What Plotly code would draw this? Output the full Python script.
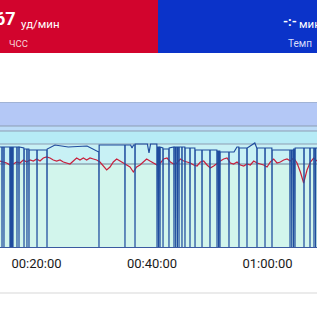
import plotly.graph_objects as go

# ---------------- data ----------------
tick_vals = [20, 40, 60]
tick_text = ["00:20:00", "00:40:00", "01:00:00"]

hr_time_min = [
    13.68, 14.26, 14.83, 15.41, 15.99, 16.57, 17.14, 17.72, 18.30, 18.87,
    19.45, 20.03, 20.61, 21.18, 21.76, 22.34, 22.91, 23.49, 24.07, 24.65,
    25.22, 25.80, 26.38, 26.95, 27.53, 28.11, 28.69, 29.26, 29.84, 30.42,
    30.99, 31.57, 32.15, 32.73, 33.30, 33.88, 34.46, 35.03, 35.61, 36.19,
    36.77, 37.34, 37.92, 38.50, 39.07, 39.65, 40.23,
    40.87, 41.45, 42.02, 42.60, 43.18, 43.76, 44.33, 44.91, 45.49, 46.06,
    46.64, 47.22, 47.80, 48.37, 48.95, 49.53, 50.10, 50.68, 51.26, 51.84,
    52.41, 52.99, 53.57, 54.14, 54.72, 55.30, 55.88, 56.45, 57.03, 57.61,
    58.18, 58.76, 59.34, 59.92, 60.49, 61.07, 61.65, 62.22, 62.80, 63.38,
    63.96, 64.53, 65.11, 65.69, 66.26, 66.84, 67.42, 67.99, 68.57,
]
hr_bpm = [
    131, 130, 129, 127, 128, 130, 129, 132, 130, 132,
    131, 133, 131, 134, 135, 134, 132, 131, 132, 130,
    129, 128, 131, 134, 132, 134, 132, 134, 133, 132,
    130, 126, 122, 125, 130, 133, 131, 129, 127, 125,
    120, 125, 127, 130, 133, 131, 129,
    127, 129, 133, 134, 130, 128, 129, 133, 131, 130,
    129, 127, 126, 130, 131, 127, 124, 126, 129, 131,
    133, 134, 129, 128, 130, 127, 126, 128, 127, 131,
    129, 128, 127, 125, 130, 133, 129, 130, 132, 133,
    131, 134, 129, 120, 109, 122, 130, 134, 131,
]

pace_time_min = [
    13.68, 14.00, 14.03, 14.06, 14.34, 14.37, 14.40,
    15.38, 15.41, 15.44, 15.57, 15.60, 15.63, 15.75, 15.78, 15.81, 15.90, 15.93, 15.96,
    16.59, 16.62, 16.65, 16.94, 16.97, 17.00, 17.81, 17.84, 17.87,
    18.32, 18.35, 18.38, 18.67, 18.70, 18.73, 20.06, 20.09, 20.12,
    21.79, 21.82, 21.85, 23.20, 25.50, 28.75, 30.65, 30.79, 30.82, 30.85,
    32.50, 35.29, 35.32, 35.35, 36.30, 36.54, 36.80, 37.03, 37.06, 37.09,
    39.20, 39.48, 39.75, 40.84, 40.87, 40.90, 41.10, 41.13, 41.16, 41.36, 41.39, 41.42,
    41.88, 41.91, 41.94, 42.91, 42.94, 42.97,
    43.78, 43.81, 43.84, 44.07, 44.10, 44.13, 44.37, 44.40, 44.43, 44.65, 44.68, 44.71,
    45.16, 45.19, 45.22, 45.68, 45.71, 45.74, 46.55, 46.58, 46.61,
    47.42, 47.45, 47.48, 48.63, 48.66, 48.69, 50.01, 50.04, 50.07,
    51.23, 51.26, 51.29, 51.50, 51.53, 51.56, 51.74, 51.77, 51.80,
    52.47, 53.30, 53.33, 53.36, 54.20, 54.71, 55.03, 55.06, 55.09,
    56.42, 56.45, 56.48, 57.80, 58.15, 58.18, 58.21, 59.54, 59.57, 59.60,
    60.75, 60.78, 60.81, 61.30, 63.87, 63.90, 63.93, 64.17, 64.20, 64.23,
    64.47, 64.50, 64.53, 64.73, 64.76, 64.79, 66.29, 66.32, 66.35,
    67.33, 67.36, 67.39, 68.02, 68.05, 68.08, 68.30, 68.33, 68.36, 68.57,
]
pace_kmh = [
    10.0, 10.0, 0.0, 10.0, 10.0, 0.0, 10.0,
    10.0, 0.0, 10.0, 10.0, 0.0, 10.0, 10.0, 0.0, 10.0, 10.0, 0.0, 10.0,
    10.0, 0.0, 10.0, 10.0, 0.0, 10.0, 9.9, 0.0, 9.8,
    9.8, 0.0, 9.8, 9.8, 0.0, 9.7, 9.7, 0.0, 9.7,
    9.7, 0.0, 9.8, 10.2, 10.0, 10.1, 9.5, 9.5, 0.0, 10.2,
    10.2, 10.2, 0.0, 10.2, 10.2, 9.9, 10.2, 10.2, 0.0, 10.3,
    10.3, 9.4, 10.3, 10.3, 0.0, 10.0, 10.0, 0.0, 10.0, 10.0, 0.0, 10.0,
    9.9, 0.0, 9.8, 9.8, 0.0, 9.9,
    10.0, 0.0, 10.0, 10.0, 0.0, 10.0, 10.0, 0.0, 10.0, 10.0, 0.0, 10.0,
    10.0, 0.0, 10.0, 10.0, 0.0, 9.9, 9.9, 0.0, 9.9,
    9.9, 0.0, 9.7, 9.7, 0.0, 9.7, 9.7, 0.0, 9.7,
    9.7, 0.0, 9.6, 9.6, 0.0, 9.6, 9.6, 0.0, 9.5,
    9.5, 9.5, 0.0, 9.5, 9.5, 10.0, 10.0, 0.0, 9.9,
    9.9, 0.0, 9.9, 10.4, 9.9, 0.0, 9.9, 9.9, 0.0, 9.9,
    9.9, 0.0, 9.7, 9.7, 9.7, 0.0, 9.7, 9.7, 0.0, 9.7,
    9.7, 0.0, 9.8, 9.8, 0.0, 9.9, 9.9, 0.0, 9.9,
    9.9, 0.0, 9.9, 9.9, 0.0, 9.9, 9.9, 0.0, 9.9, 9.9,
]

# HR zone bands (bpm) and colours
zone_edges = [45, 128, 148, 161, 166, 190]
zone_colors = ["#d2f5ec", "#c8f1f5", "#b6ebf6", "#bcdcf8", "#b4c8f6"]
zone_lines = [128, 148, 161, 166, 190]

# ---------------- figure ----------------
W = H = 317
def py(p):  # pixel row -> paper y
    return 1 - p / H
def px(p):
    return p / W

fig = go.Figure()

fig.add_trace(go.Scatter(
    x=pace_time_min, y=pace_kmh, mode="lines", yaxis="y2",
    line=dict(color="#1f4c9e", width=1.2), hoverinfo="skip", showlegend=False,
))
fig.add_trace(go.Scatter(
    x=hr_time_min, y=hr_bpm, mode="lines",
    line=dict(color="#c8203c", width=1.2), hoverinfo="skip", showlegend=False,
))

shapes = []
shapes.append(dict(type="rect", xref="paper", yref="paper", x0=0, x1=px(158),
                   y0=py(53), y1=1, fillcolor="#d2042d", line_width=0, layer="below"))
shapes.append(dict(type="rect", xref="paper", yref="paper", x0=px(158), x1=1,
                   y0=py(53), y1=1, fillcolor="#0b33c9", line_width=0, layer="below"))
for i, c in enumerate(zone_colors):
    shapes.append(dict(type="rect", xref="paper", yref="y", x0=0, x1=1,
                       y0=zone_edges[i], y1=zone_edges[i + 1],
                       fillcolor=c, line_width=0, layer="below"))
for v in zone_lines:
    shapes.append(dict(type="line", xref="paper", yref="y", x0=0, x1=1, y0=v, y1=v,
                       line=dict(color="#6f7f95" if v == 128 else "#8d9db3", width=1),
                       layer="below"))
shapes.append(dict(type="line", xref="paper", yref="paper", x0=0, x1=1,
                   y0=py(293), y1=py(293), line=dict(color="#ebebeb", width=2)))

def ann(text, x, y, xanchor, size, color):
    return dict(text=text, x=px(x), y=py(y), xref="paper", yref="paper",
                xanchor=xanchor, yanchor="middle", showarrow=False,
                font=dict(size=size, color=color, family="Roboto"))

annotations = [
    ann("<b>67</b>", 17.5, 19, "right", 18, "white"),
    ann("уд/мин", 18.5, 24, "left", 11.5, "white"),
    ann("ЧСС", 6.5, 43, "left", 9.5, "#f6d3d9"),
    ann("<b>-:-</b>", 289.5, 21, "center", 13, "white"),
    ann("мин", 297, 24, "left", 11.5, "white"),
    ann("Темп", 299.5, 43, "center", 10, "#d8ddfb"),
]

fig.update_layout(
    width=W, height=H, margin=dict(l=0, r=0, t=0, b=0),
    paper_bgcolor="white", plot_bgcolor="rgba(0,0,0,0)",
    showlegend=False, shapes=shapes, annotations=annotations,
    xaxis=dict(range=[13.68, 68.57], domain=[0, 1], showgrid=False, zeroline=False,
               tickvals=tick_vals, ticktext=tick_text, ticks="",
               tickfont=dict(size=13, color="#1a1a1a", family="Roboto"),
               ticklabelstandoff=4,
               showline=True, linecolor="#3a5aa0", linewidth=1),
    yaxis=dict(range=[45, 190], domain=[py(247), py(102)], visible=False, fixedrange=True),
    yaxis2=dict(range=[0, 14.5], overlaying="y", visible=False),
)

fig.write_html("out.html", config={"displayModeBar": False})
